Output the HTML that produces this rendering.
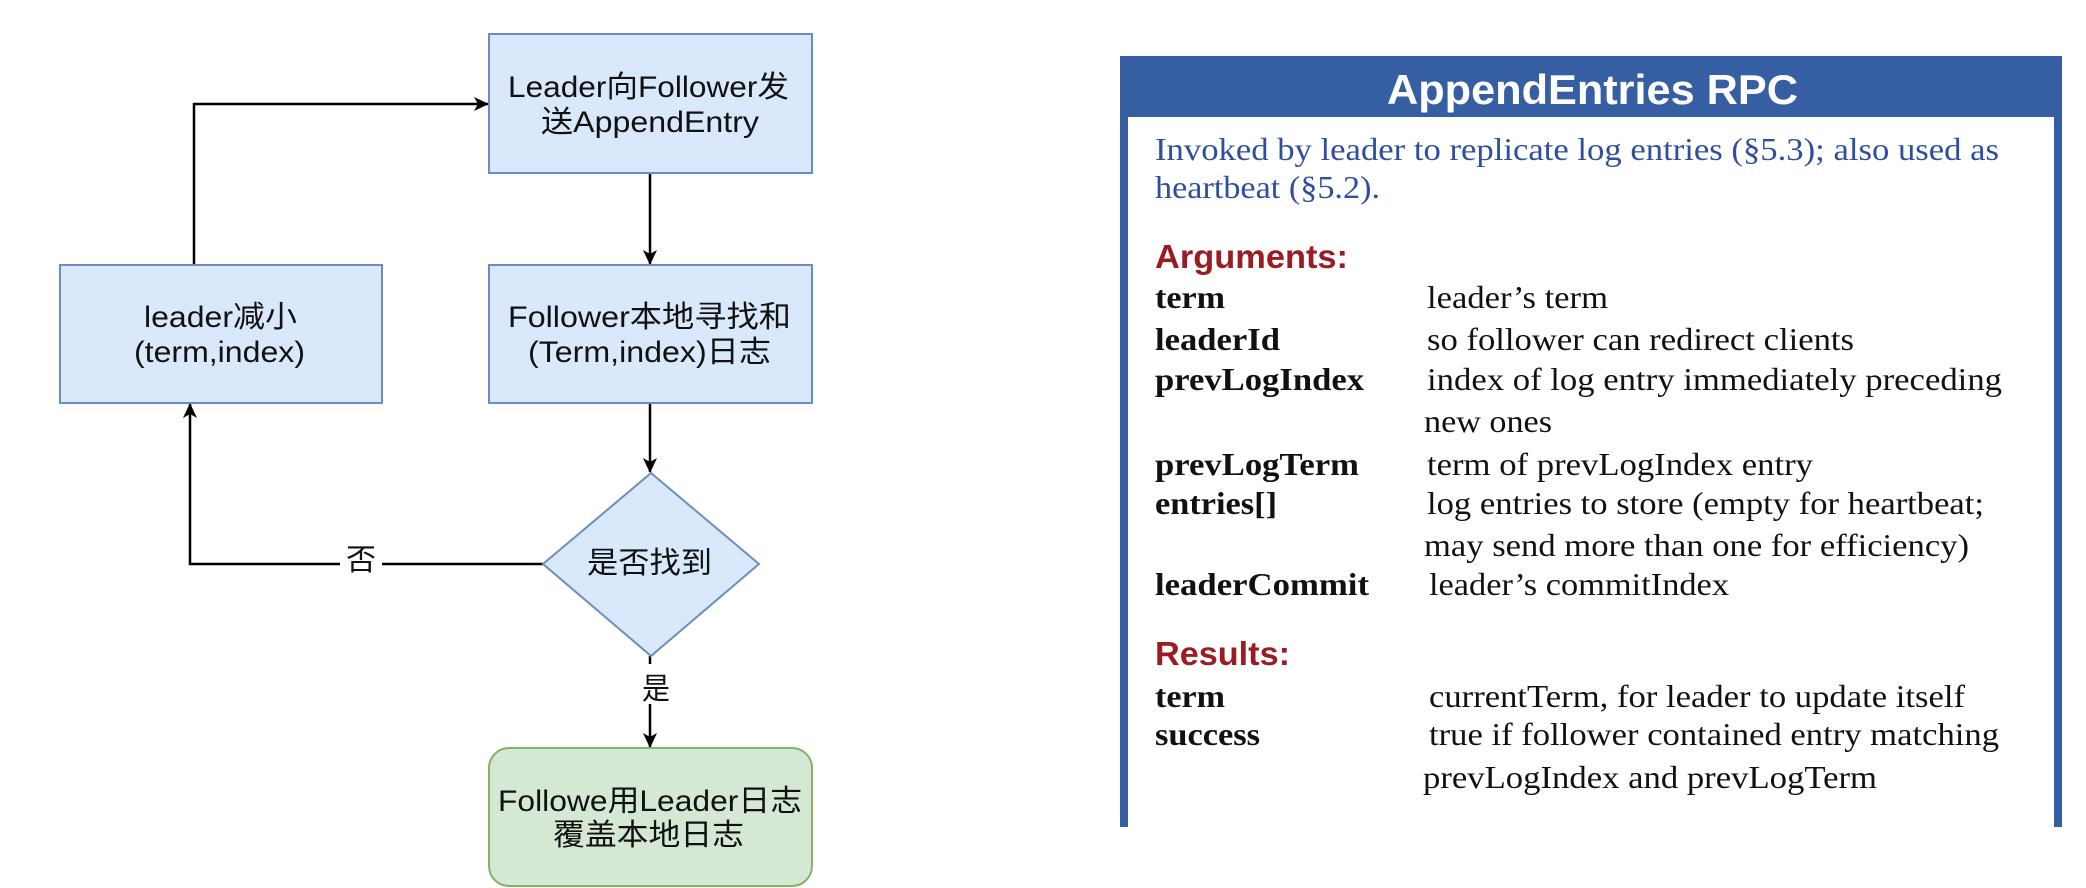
<!DOCTYPE html>
<html><head><meta charset="utf-8"><style>
html,body{margin:0;padding:0;background:#fff;}
svg{display:block;}
.f{font-family:"Liberation Sans","Noto Sans CJK SC",sans-serif;font-size:30px;fill:#111;}
.s{font-family:"Liberation Serif",serif;font-size:32px;fill:#111;}
.b{font-family:"Liberation Serif",serif;font-size:32px;font-weight:bold;fill:#111;}
.h{font-family:"Liberation Sans",sans-serif;font-size:33px;font-weight:bold;fill:#9b1c22;}
.i{font-family:"Liberation Serif",serif;font-size:32px;fill:#2f4f9e;}
</style></head><body>
<svg width="2086" height="888" viewBox="0 0 2086 888" xmlns="http://www.w3.org/2000/svg">
<defs><marker id="a" markerWidth="16" markerHeight="16" refX="14" refY="7" orient="auto" markerUnits="userSpaceOnUse"><path d="M0,0 L15,7 L0,14 L4,7 Z" fill="#000"/></marker></defs>
<g stroke="#000" stroke-width="2.5" fill="none">
<polyline points="194,265 194,104 488,104" marker-end="url(#a)"/>
<line x1="650" y1="173" x2="650" y2="264" marker-end="url(#a)"/>
<line x1="650" y1="403" x2="650" y2="472" marker-end="url(#a)"/>
<polyline points="543,564 190,564 190,404" marker-end="url(#a)"/>
<line x1="650" y1="656" x2="650" y2="747" marker-end="url(#a)"/>
</g>
<rect x="340" y="548" width="42" height="30" fill="#fff"/>
<rect x="636" y="664" width="30" height="40" fill="#fff"/>
<g stroke="#6c8ebf" stroke-width="2" fill="#dae8fc">
<rect x="489" y="34" width="323" height="139"/>
<rect x="60" y="265" width="322" height="138"/>
<rect x="489" y="265" width="323" height="138"/>
<polygon points="651,473 759,564 651,656 543,564"/>
</g>
<rect x="489" y="748" width="323" height="138" rx="20" fill="#d5e8d4" stroke="#82b366" stroke-width="2"/>
<text class="f" x="508" y="97" textLength="281" lengthAdjust="spacingAndGlyphs">Leader向Follower发</text>
<text class="f" x="541" y="132" textLength="218" lengthAdjust="spacingAndGlyphs">送AppendEntry</text>
<text class="f" x="144" y="327" textLength="153" lengthAdjust="spacingAndGlyphs">leader减小</text>
<text class="f" x="134" y="362" textLength="171" lengthAdjust="spacingAndGlyphs">(term,index)</text>
<text class="f" x="508" y="327" textLength="283" lengthAdjust="spacingAndGlyphs">Follower本地寻找和</text>
<text class="f" x="528" y="362" textLength="243" lengthAdjust="spacingAndGlyphs">(Term,index)日志</text>
<text class="f" x="587" y="573" textLength="125" lengthAdjust="spacingAndGlyphs">是否找到</text>
<text class="f" x="498" y="811" textLength="304" lengthAdjust="spacingAndGlyphs">Followe用Leader日志</text>
<text class="f" x="553" y="845" textLength="191" lengthAdjust="spacingAndGlyphs">覆盖本地日志</text>
<text class="f" x="346" y="570" textLength="30" lengthAdjust="spacingAndGlyphs">否</text>
<text class="f" x="642" y="699" textLength="28" lengthAdjust="spacingAndGlyphs">是</text>

<rect x="1120" y="56" width="942" height="61" fill="#365ea3"/>
<rect x="1120" y="56" width="8" height="771" fill="#365ea3"/>
<rect x="2054" y="56" width="8" height="771" fill="#365ea3"/>
<text x="1387" y="104" font-family="Liberation Sans,sans-serif" font-size="42" font-weight="bold" fill="#fff" textLength="411" lengthAdjust="spacingAndGlyphs">AppendEntries RPC</text>
<text class="i" x="1155" y="160" textLength="844" lengthAdjust="spacingAndGlyphs">Invoked by leader to replicate log entries (§5.3); also used as</text>
<text class="i" x="1155" y="198" textLength="225" lengthAdjust="spacingAndGlyphs">heartbeat (§5.2).</text>
<text class="h" x="1155" y="268" textLength="193" lengthAdjust="spacingAndGlyphs">Arguments:</text>
<text class="b" x="1155" y="308" textLength="70" lengthAdjust="spacingAndGlyphs">term</text>
<text class="s" x="1427" y="308" textLength="181" lengthAdjust="spacingAndGlyphs">leader’s term</text>
<text class="b" x="1155" y="350" textLength="125" lengthAdjust="spacingAndGlyphs">leaderId</text>
<text class="s" x="1427" y="350" textLength="427" lengthAdjust="spacingAndGlyphs">so follower can redirect clients</text>
<text class="b" x="1155" y="390" textLength="209" lengthAdjust="spacingAndGlyphs">prevLogIndex</text>
<text class="s" x="1427" y="390" textLength="575" lengthAdjust="spacingAndGlyphs">index of log entry immediately preceding</text>
<text class="s" x="1424" y="432" textLength="128" lengthAdjust="spacingAndGlyphs">new ones</text>
<text class="b" x="1155" y="475" textLength="204" lengthAdjust="spacingAndGlyphs">prevLogTerm</text>
<text class="s" x="1427" y="475" textLength="386" lengthAdjust="spacingAndGlyphs">term of prevLogIndex entry</text>
<text class="b" x="1155" y="514" textLength="122" lengthAdjust="spacingAndGlyphs">entries[]</text>
<text class="s" x="1427" y="514" textLength="557" lengthAdjust="spacingAndGlyphs">log entries to store (empty for heartbeat;</text>
<text class="s" x="1424" y="556" textLength="545" lengthAdjust="spacingAndGlyphs">may send more than one for efficiency)</text>
<text class="b" x="1155" y="595" textLength="214" lengthAdjust="spacingAndGlyphs">leaderCommit</text>
<text class="s" x="1429" y="595" textLength="300" lengthAdjust="spacingAndGlyphs">leader’s commitIndex</text>
<text class="h" x="1155" y="665" textLength="135" lengthAdjust="spacingAndGlyphs">Results:</text>
<text class="b" x="1155" y="707" textLength="70" lengthAdjust="spacingAndGlyphs">term</text>
<text class="s" x="1429" y="707" textLength="536" lengthAdjust="spacingAndGlyphs">currentTerm, for leader to update itself</text>
<text class="b" x="1155" y="745" textLength="105" lengthAdjust="spacingAndGlyphs">success</text>
<text class="s" x="1429" y="745" textLength="570" lengthAdjust="spacingAndGlyphs">true if follower contained entry matching</text>
<text class="s" x="1423" y="788" textLength="454" lengthAdjust="spacingAndGlyphs">prevLogIndex and prevLogTerm</text>
</svg>
</body></html>
